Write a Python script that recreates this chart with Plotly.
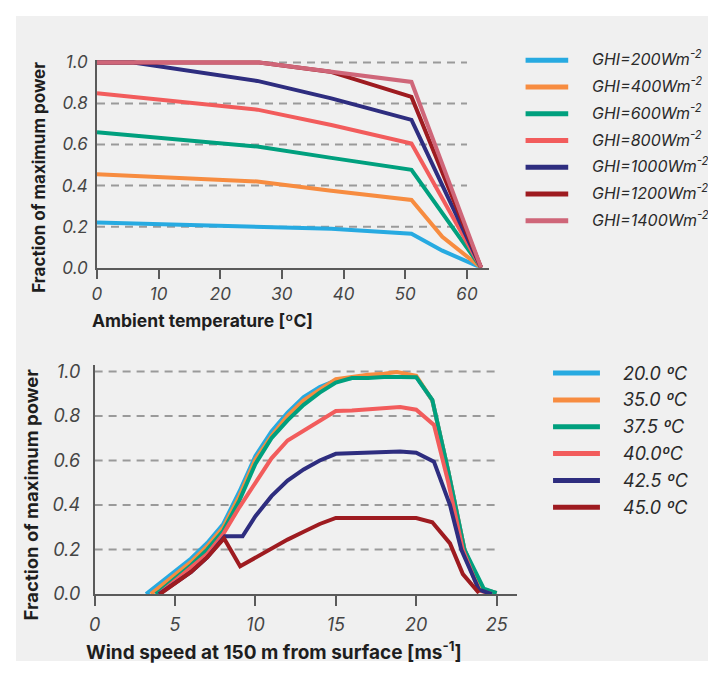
import plotly.graph_objects as go

# page is 716x679; the html body has an 8px margin, so the figure itself is 700x663
PAGE_MARGIN = 8
W, H = 716 - 2 * PAGE_MARGIN, 679 - 2 * PAGE_MARGIN

# ---------------- data: top chart (fraction of max power vs ambient temperature)
ghi_labels = ["GHI=200Wm<sup>-2</sup>", "GHI=400Wm<sup>-2</sup>", "GHI=600Wm<sup>-2</sup>",
              "GHI=800Wm<sup>-2</sup>", "GHI=1000Wm<sup>-2</sup>", "GHI=1200Wm<sup>-2</sup>",
              "GHI=1400Wm<sup>-2</sup>"]
t_200 = [0, 26, 38, 51, 56, 62.3]
p_200 = [0.22, 0.20, 0.19, 0.165, 0.083, 0.0]
t_400 = [0, 26, 38, 51, 56, 62.3]
p_400 = [0.455, 0.42, 0.375, 0.33, 0.15, 0.0]
t_600 = [0, 26, 38, 51, 62.3]
p_600 = [0.66, 0.59, 0.535, 0.477, 0.0]
t_800 = [0, 26, 38, 51, 62.3]
p_800 = [0.85, 0.77, 0.695, 0.605, 0.0]
t_1000 = [0, 5.9, 26, 38, 51, 62.3]
p_1000 = [1.0, 1.0, 0.91, 0.825, 0.72, 0.0]
t_1200 = [0, 26.3, 37.8, 51, 62.3]
p_1200 = [1.0, 1.0, 0.955, 0.832, 0.0]
t_1400 = [0, 26.3, 51, 62.3]
p_1400 = [1.0, 1.0, 0.905, 0.0]
temp_ticks = [0, 10, 20, 30, 40, 50, 60]

# ---------------- data: bottom chart (fraction of max power vs wind speed)
temp_labels = ["20.0 ºC", "35.0 ºC", "37.5 ºC", "40.0ºC", "42.5 ºC", "45.0 ºC"]
w_20 = [3.2, 4, 5, 6, 7, 8, 9, 10, 11, 12, 13, 14, 15, 16, 17, 18, 19, 20, 21, 22, 23, 24, 25]
p_20 = [0.0, 0.045, 0.10, 0.16, 0.23, 0.315, 0.46, 0.62, 0.73, 0.815, 0.885, 0.93, 0.96,
        0.97, 0.975, 0.975, 0.975, 0.975, 0.87, 0.55, 0.20, 0.025, 0.005]
w_35 = [3.5, 4, 5, 6, 7, 8, 9, 10, 11, 12, 13, 14, 15, 16, 17, 18, 18.8, 20, 21, 22, 23, 24, 25]
p_35 = [0.0, 0.03, 0.085, 0.145, 0.215, 0.30, 0.44, 0.605, 0.71, 0.80, 0.87, 0.92, 0.965,
        0.975, 0.985, 0.99, 0.997, 0.98, 0.87, 0.55, 0.20, 0.025, 0.005]
w_375 = [3.8, 4, 5, 6, 7, 8, 9, 10, 11, 12, 13, 14, 15, 16, 17, 18, 19, 20, 21, 22, 23, 24.2, 25]
p_375 = [0.0, 0.01, 0.07, 0.13, 0.20, 0.285, 0.42, 0.585, 0.70, 0.78, 0.85, 0.905, 0.95,
         0.97, 0.97, 0.975, 0.975, 0.974, 0.872, 0.55, 0.20, 0.025, 0.005]
w_40 = [4.0, 5, 6, 7, 8, 9, 10, 11, 12, 13, 14, 15, 16, 17, 18, 19, 20, 21.1, 22, 22.9, 23.9, 24.7]
p_40 = [0.0, 0.06, 0.115, 0.18, 0.27, 0.39, 0.50, 0.61, 0.69, 0.735, 0.78, 0.822, 0.825,
        0.83, 0.835, 0.84, 0.828, 0.76, 0.50, 0.20, 0.017, 0.0]
w_425 = [4.0, 5, 6, 7, 8.1, 9.2, 10, 11, 12, 13, 14, 15, 16, 17, 18, 19, 20, 21.1, 22.1, 22.8, 23.9, 24.7]
p_425 = [0.0, 0.05, 0.10, 0.165, 0.26, 0.26, 0.35, 0.44, 0.51, 0.56, 0.60, 0.63, 0.633,
         0.636, 0.638, 0.64, 0.635, 0.595, 0.40, 0.20, 0.02, 0.0]
w_45 = [4.05, 5, 6, 7, 8.05, 9.05, 10, 11, 12, 13, 14, 15, 16, 17, 18, 19, 20, 21, 22.1, 22.9, 23.9]
p_45 = [0.0, 0.05, 0.10, 0.165, 0.25, 0.125, 0.165, 0.205, 0.245, 0.28, 0.315, 0.342, 0.342,
        0.342, 0.342, 0.342, 0.342, 0.323, 0.228, 0.09, 0.005]
wind_ticks = [0, 5, 10, 15, 20, 25]

frac_ticks = [0.0, 0.2, 0.4, 0.6, 0.8, 1.0]
frac_ticktext = ["0.0", "0.2", "0.4", "0.6", "0.8", "1.0"]

colors_top = ["#27aae1", "#f78c40", "#00a07e", "#f25c5c", "#2e2d7f", "#9e1b20", "#cf6679"]
colors_bot = ["#27aae1", "#f78c40", "#00a07e", "#f25c5c", "#2e2d7f", "#9e1b20"]

FONT = "Inter"
BG = "#f0f0f0"


def px_x(p):
    """page pixel x -> paper fraction"""
    return (p - PAGE_MARGIN) / W


def px_y(p):
    """page pixel y -> paper fraction"""
    return 1 - (p - PAGE_MARGIN) / H


fig = go.Figure()

top_series = [(t_200, p_200), (t_400, p_400), (t_600, p_600), (t_800, p_800),
              (t_1000, p_1000), (t_1200, p_1200), (t_1400, p_1400)]
for (xs, ys), name, c in zip(top_series, ghi_labels, colors_top):
    fig.add_trace(go.Scatter(x=xs, y=ys, mode="lines", name=name, showlegend=False,
                             line=dict(color=c, width=4), xaxis="x", yaxis="y"))

bot_series = [(w_20, p_20), (w_35, p_35), (w_375, p_375), (w_40, p_40), (w_425, p_425), (w_45, p_45)]
for (xs, ys), name, c in zip(bot_series, temp_labels, colors_bot):
    fig.add_trace(go.Scatter(x=xs, y=ys, mode="lines", name=name, showlegend=False,
                             line=dict(color=c, width=4), xaxis="x2", yaxis="y2"))

axis_common = dict(showgrid=False, zeroline=False, showline=True, linecolor="#5a5a5a",
                   linewidth=1.5)

shapes = []
# panel background
shapes.append(dict(type="rect", xref="paper", yref="paper", x0=px_x(10), x1=1, y0=0, y1=1,
                   fillcolor=BG, line=dict(width=0), layer="below"))
# dashed grid lines spanning the tick range
for v in frac_ticks[1:]:
    shapes.append(dict(type="line", xref="x", yref="y", x0=temp_ticks[0], x1=temp_ticks[-1], y0=v, y1=v,
                       line=dict(color="#9a9a9a", width=2, dash="8px,6px"), layer="below"))
    shapes.append(dict(type="line", xref="x2", yref="y2", x0=wind_ticks[0], x1=wind_ticks[-1], y0=v, y1=v,
                       line=dict(color="#9a9a9a", width=2, dash="8px,6px"), layer="below"))

annotations = []
# manual legends
for i, (name, c) in enumerate(zip(ghi_labels, colors_top)):
    yy = 53.5 + i * 27.5
    shapes.append(dict(type="line", xref="paper", yref="paper", x0=px_x(524), x1=px_x(567),
                       y0=px_y(yy), y1=px_y(yy), line=dict(color=c, width=5)))
    annotations.append(dict(text=name, xref="paper", yref="paper", x=px_x(589), y=px_y(yy - 2),
                            xanchor="left", yanchor="middle", showarrow=False,
                            font=dict(family=FONT, size=16, color="#2a2a2a", style="italic")))
for i, (name, c) in enumerate(zip(temp_labels, colors_bot)):
    yy = 375 + i * 27.6
    shapes.append(dict(type="line", xref="paper", yref="paper", x0=px_x(551.7), x1=px_x(599),
                       y0=px_y(yy), y1=px_y(yy), line=dict(color=c, width=5)))
    annotations.append(dict(text=name, xref="paper", yref="paper", x=px_x(620.5), y=px_y(yy),
                            xanchor="left", yanchor="middle", showarrow=False,
                            font=dict(family=FONT, size=18, color="#2a2a2a", style="italic")))

# axis titles
annotations.append(dict(text="Ambient temperature [ºC]", xref="paper", yref="paper",
                        x=px_x(85), y=px_y(321), xanchor="left", yanchor="middle", showarrow=False,
                        font=dict(family=FONT, size=17.5, color="#1e1e1e", weight="bold")))
annotations.append(dict(text="Fraction of maximum power", xref="paper", yref="paper",
                        x=px_x(33), y=px_y(173.5), xanchor="center", yanchor="middle", textangle=-90,
                        showarrow=False, font=dict(family=FONT, size=17, color="#1e1e1e", weight="bold")))
annotations.append(dict(text="Wind speed at 150 m from surface [ms<sup>-1</sup>]", xref="paper", yref="paper",
                        x=px_x(79), y=px_y(661), xanchor="left", yanchor="middle", showarrow=False,
                        font=dict(family=FONT, size=19, color="#1e1e1e", weight="bold")))
annotations.append(dict(text="Fraction of maximum power", xref="paper", yref="paper",
                        x=px_x(25), y=px_y(500), xanchor="center", yanchor="middle", textangle=-90,
                        showarrow=False, font=dict(family=FONT, size=18.5, color="#1e1e1e", weight="bold")))

tick_top = dict(family=FONT, size=17, color="#454545", style="italic")
tick_bot = dict(family=FONT, size=18, color="#454545", style="italic")

fig.update_layout(
    width=W, height=H,
    margin=dict(l=0, r=0, t=0, b=0),
    paper_bgcolor="white",
    plot_bgcolor=BG,
    showlegend=False,
    shapes=shapes,
    annotations=annotations,
    xaxis=dict(domain=[px_x(91.7), px_x(487.6)], range=[0, 63.65], anchor="y",
               tickvals=temp_ticks, ticks="outside", ticklen=10, tickwidth=1.5, tickcolor="#5a5a5a",
               tickfont=tick_top, **axis_common),
    yaxis=dict(domain=[px_y(266.7), px_y(53.2)], range=[0, 1.012], anchor="x",
               tickvals=frac_ticks, ticktext=frac_ticktext, ticks="", ticklabelstandoff=4,
               tickfont=tick_top, **axis_common),
    xaxis2=dict(domain=[px_x(89.3), px_x(515.4)], range=[0, 26.27], anchor="y2",
                tickvals=wind_ticks, ticks="outside", ticklen=10, tickwidth=1.5, tickcolor="#5a5a5a",
                ticklabelstandoff=3, tickfont=tick_bot, **axis_common),
    yaxis2=dict(domain=[px_y(602.3), px_y(366.7)], range=[0, 1.029], anchor="x2",
                tickvals=frac_ticks, ticktext=frac_ticktext, ticks="", ticklabelstandoff=9,
                tickfont=tick_bot, **axis_common),
)

fig.write_html("out.html")
